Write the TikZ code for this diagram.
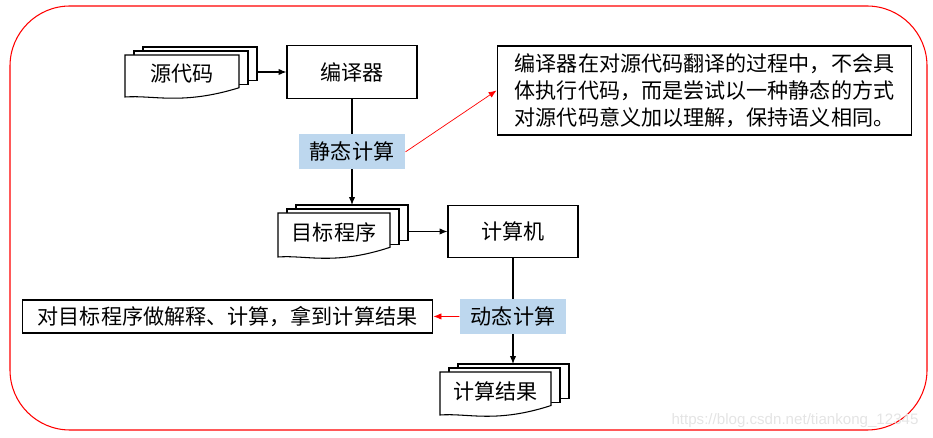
\documentclass[tikz,border=0pt]{standalone}
\usepackage{fontspec}
\setmainfont{Noto Sans CJK SC}
\newfontfamily\wmfont{Liberation Sans}
\usepackage{tikz}
\usetikzlibrary{arrows.meta,positioning,calc}
\definecolor{lblue}{RGB}{189,215,238}
\definecolor{wmgray}{RGB}{228,228,228}

% stacked sheets: name, x, y (top left of front sheet), width, height, text
\newcommand\stackdoc[6]{%
  \foreach \k in {2,1}
    \draw[fill=white] (#2+9*\k,#3-4*\k) rectangle ++(#4,0.8*#5);
  \draw[fill=white] (#2,#3) -- ++(#4,0) -- ++(0,0.78*#5)
    .. controls (#2+0.5*#4,#3+1.2*#5) and (#2+0.25*#4,#3+0.95*#5) .. (#2,#3+#5) -- cycle;
  \node (#1) at (#2+0.5*#4,#3+0.45*#5) {#6};
  \coordinate (#1-t) at (#2+18,#3-8);
  \coordinate (#1-r) at (#2+#4+18,#3+0.4*#5);
}

\begin{document}
\begin{tikzpicture}[x=0.02cm,y=-0.02cm,font=\fontsize{12}{15.3}\selectfont,
  >={Latex[length=4.5pt,width=3.6pt]},line width=0.6pt,
  b/.style={draw,minimum width=2.6cm,minimum height=1.05cm},
  lbl/.style={fill=lblue,minimum width=2.12cm,minimum height=0.7cm,inner sep=1pt}]
\useasboundingbox (0,0) rectangle (933,438);
\draw[red,rounded corners=1.2cm] (10,6) rectangle (927,430);
\node[b] (comp) at (352,72) {编译器};
\node[b] (mach) at (513,231.5) {计算机};
\stackdoc{src}{125}{55}{114}{42}{源代码}
\stackdoc{tgt}{278}{213}{112}{44}{目标程序}
\stackdoc{res}{440}{372}{111}{43}{计算结果}
\node[draw,align=left,minimum width=8.3cm,minimum height=1.78cm] (note) at (704.5,90.5)
  {编译器在对源代码翻译的过程中，不会具\\体执行代码，而是尝试以一种静态的方式\\对源代码意义加以理解，保持语义相同。};
\node[draw,minimum width=8.22cm,minimum height=0.66cm] (expl) at (227.5,316.5)
  {对目标程序做解释、计算，拿到计算结果};
\node[text=wmgray,font=\wmfont\fontsize{8.6}{10}\selectfont] (wm) at (795,421)
  {https://blog.csdn.net/tiankong\_12345};
\draw[->] (src-r |- comp) -- (comp);
\draw[->] (comp) -- node[lbl] (stat) {静态计算} (comp.south |- tgt-t);
\draw[->] (tgt-r |- mach) -- (mach);
\draw[->] (mach) -- node[lbl,pos=0.55] (dyn) {动态计算} (mach.south |- res-t);
\draw[->,red,line width=0.4pt] (stat.east) -- (note.west);
\draw[->,red,line width=0.4pt] (dyn) -- (expl);
\end{tikzpicture}
\end{document}
